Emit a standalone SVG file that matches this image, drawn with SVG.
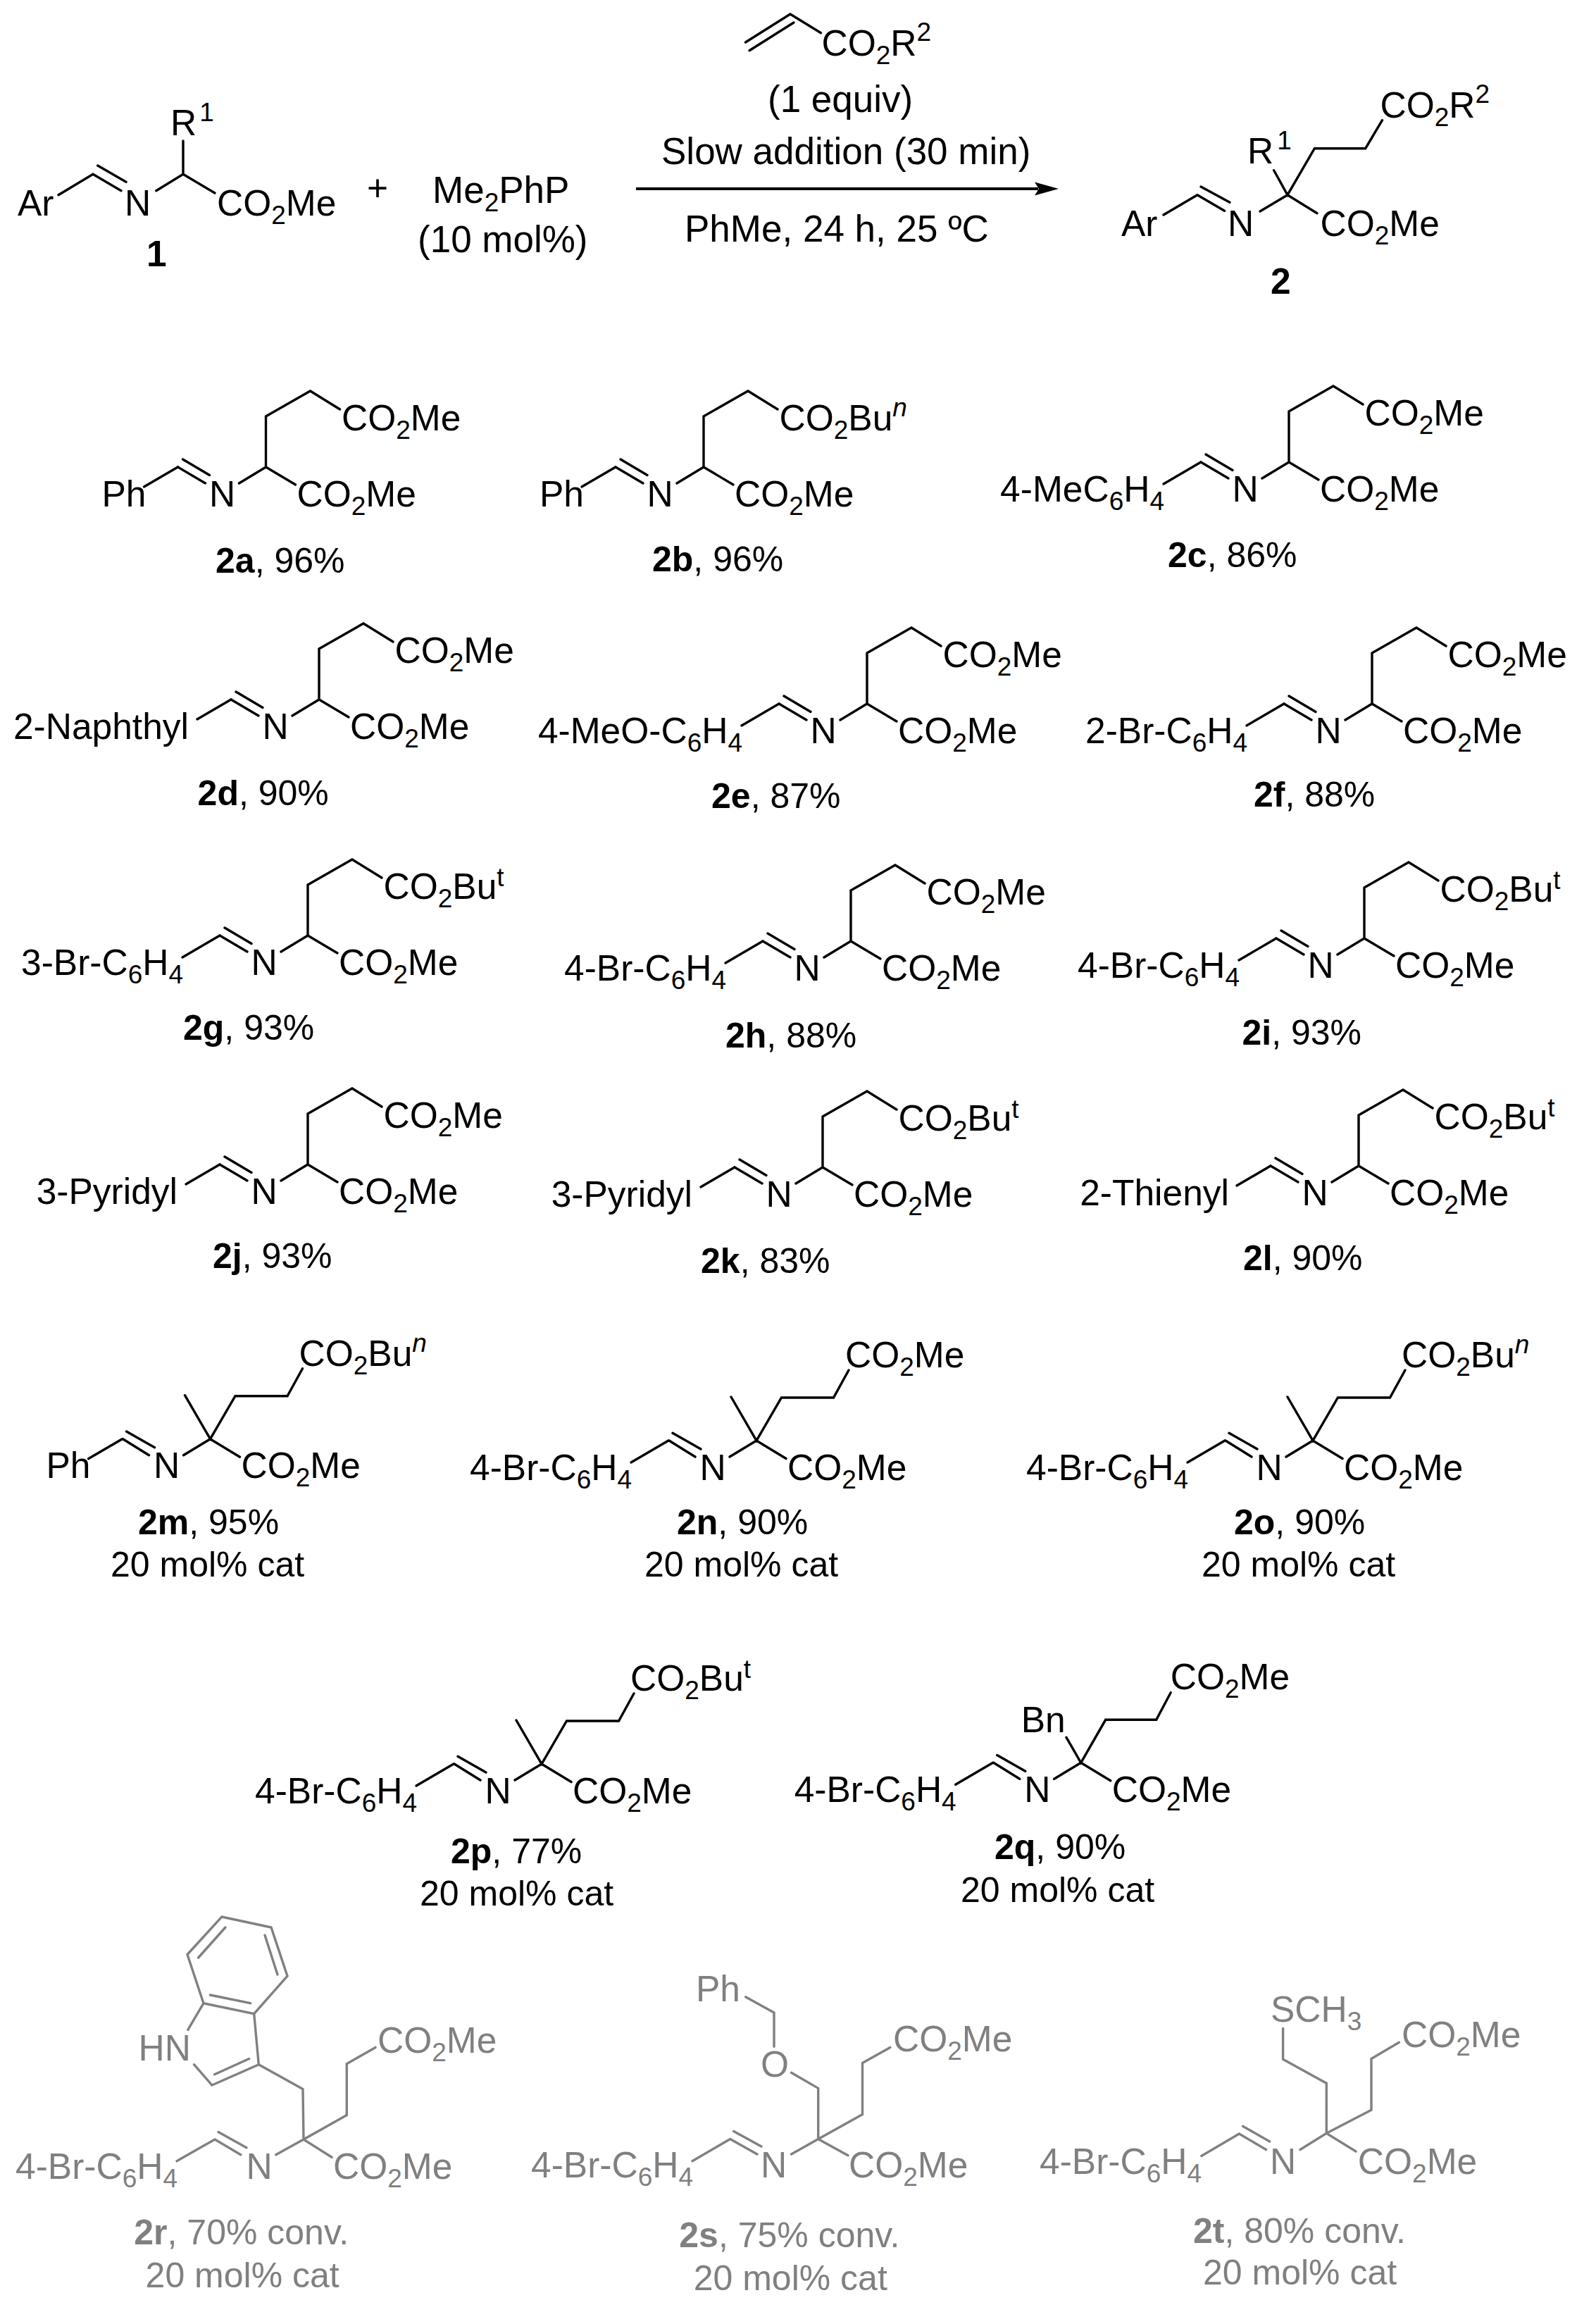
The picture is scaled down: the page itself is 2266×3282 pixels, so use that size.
<svg xmlns="http://www.w3.org/2000/svg" width="2266" height="3282" viewBox="0 0 2266 3282">
<style>
text{font-family:"Liberation Sans",Arial,sans-serif;font-size:51.5px;fill:#000}
.s{font-size:37px}
.i{font-size:37px;font-style:italic}
.b{font-weight:bold}
.e{text-anchor:end}
.w{font-size:53px}
.l{font-size:50px}
.bd{fill:none;stroke:#000;stroke-width:3.4;stroke-linecap:round;stroke-linejoin:miter}
.g text{fill:#808080}
.g .bd{stroke:#808080}
</style>
<defs>
<path id="t3" class="bd" d="M-125,0L-86,23M-118,-11L-80,11.5M-38,23L0,0L42,25M0,0V-72L63,-108L105,-82"/>
<path id="q4" class="bd" d="M-124,0L-87,23M-119,-10.7L-79,12M-38,23L0,0L42,25.5M-36,-62L0,0L35.5,-61H109.5L131,-100"/>
<path id="sa" class="bd" d="M-178,31L-125,0"/>
<path id="sb" class="bd" d="M-173,28L-125,0"/>
</defs>
<rect width="2266" height="3282" fill="#fff"/>
<g id="connectors">
<path d="M903,268H1474" fill="none" stroke="#000" stroke-width="4"/>
<polygon points="1503,268 1469,258.5 1475,268 1469,277.5" fill="#000"/>
</g>
<g id="reactant1">
<path class="bd" d="M83,276.7L132,247.3L172,270.7M138.7,235L179,258.3M221.8,270.7L260,247.3L305,274M260,247.3V200"/>
<text x="25" y="306">Ar</text><text x="177" y="306">N</text>
<text x="308" y="306">CO<tspan class="s" dy="12">2</tspan><tspan dy="-12">Me</tspan></text>
<text x="242" y="191.7">R<tspan class="s" dx="4" dy="-20">1</tspan></text>
<text class="b" x="208" y="378">1</text>
</g>
<g id="plus"><text x="521" y="285">+</text></g>
<g id="catalyst">
<text x="614" y="288.3" class="w">Me<tspan class="s" dy="12">2</tspan><tspan dy="-12">PhP</tspan></text>
<text x="593" y="358" class="w">(10 mol%)</text>
</g>
<g id="conditions">
<path class="bd" d="M1058.5,60L1122,20L1165.5,46.7M1064,71.7L1127,32"/>
<text x="1166.5" y="79.3">CO<tspan class="s" dy="12">2</tspan><tspan dy="-12">R</tspan><tspan class="s" dy="-21">2</tspan></text>
<text class="w" x="1090" y="159">(1 equiv)</text>
<text class="w" x="939" y="233">Slow addition (30 min)</text>
<text class="w" x="972" y="343">PhMe, 24 h, 25 ºC</text>
</g>
<g id="product2">
<path class="bd" d="M1652,305L1700,276.7L1738.5,299.3M1705,265L1746,287.3M1789,300L1828,276.7L1870,302.7M1808.6,241.7L1828,276.7L1866.4,210.7H1938.7L1962.5,170.7"/>
<text x="1592" y="335">Ar</text><text x="1743" y="335">N</text>
<text x="1874.5" y="335">CO<tspan class="s" dy="12">2</tspan><tspan dy="-12">Me</tspan></text>
<text x="1959.5" y="166.7">CO<tspan class="s" dy="12">2</tspan><tspan dy="-12">R</tspan><tspan class="s" dy="-21">2</tspan></text>
<text x="1771" y="231.7">R<tspan class="s" dx="5" dy="-20">1</tspan></text>
<text class="b" x="1804" y="416.7">2</text>
</g>

<g id="c2a"><g transform="translate(377.5,663)"><use href="#t3"/><use href="#sb"/>
<text x="-233" y="55.5">Ph</text><text x="-80.5" y="55.5">N</text>
<text x="44" y="55.5">CO<tspan class="s" dy="12">2</tspan><tspan dy="-12">Me</tspan></text>
<text x="107.5" y="-52.5">CO<tspan class="s" dy="12">2</tspan><tspan dy="-12">Me</tspan></text></g>
<text class="l" x="306" y="813"><tspan class="b">2a</tspan>, 96%</text></g>

<g id="c2b"><g transform="translate(999,663)"><use href="#t3"/><use href="#sb"/>
<text x="-233" y="55.5">Ph</text><text x="-80.5" y="55.5">N</text>
<text x="44" y="55.5">CO<tspan class="s" dy="12">2</tspan><tspan dy="-12">Me</tspan></text>
<text x="107.5" y="-52.5">CO<tspan class="s" dy="12">2</tspan><tspan dy="-12">Bu</tspan><tspan class="i" dy="-20">n</tspan></text></g>
<text class="l" x="926" y="811"><tspan class="b">2b</tspan>, 96%</text></g>

<g id="c2c"><g transform="translate(1830,656)"><use href="#t3"/><use href="#sa"/>
<text class="e" x="-177" y="55.5">4-MeC<tspan class="s" dy="12">6</tspan><tspan dy="-12">H</tspan><tspan class="s" dy="12">4</tspan></text><text x="-80.5" y="55.5">N</text>
<text x="44" y="55.5">CO<tspan class="s" dy="12">2</tspan><tspan dy="-12">Me</tspan></text>
<text x="107.5" y="-52.5">CO<tspan class="s" dy="12">2</tspan><tspan dy="-12">Me</tspan></text></g>
<text class="l" x="1658" y="805"><tspan class="b">2c</tspan>, 86%</text></g>

<g id="c2d"><g transform="translate(453,993)"><use href="#t3"/><use href="#sb"/>
<text class="e" x="-185" y="55.5">2-Naphthyl</text><text x="-80.5" y="55.5">N</text>
<text x="44" y="55.5">CO<tspan class="s" dy="12">2</tspan><tspan dy="-12">Me</tspan></text>
<text x="107.5" y="-52.5">CO<tspan class="s" dy="12">2</tspan><tspan dy="-12">Me</tspan></text></g>
<text class="l" x="280.6" y="1142.7"><tspan class="b">2d</tspan>, 90%</text></g>

<g id="c2e"><g transform="translate(1231,999)"><use href="#t3"/><use href="#sa"/>
<text class="e" x="-177" y="55.5">4-MeO-C<tspan class="s" dy="12">6</tspan><tspan dy="-12">H</tspan><tspan class="s" dy="12">4</tspan></text><text x="-80.5" y="55.5">N</text>
<text x="44" y="55.5">CO<tspan class="s" dy="12">2</tspan><tspan dy="-12">Me</tspan></text>
<text x="107.5" y="-52.5">CO<tspan class="s" dy="12">2</tspan><tspan dy="-12">Me</tspan></text></g>
<text class="l" x="1010" y="1147"><tspan class="b">2e</tspan>, 87%</text></g>

<g id="c2f"><g transform="translate(1948,999)"><use href="#t3"/><use href="#sa"/>
<text class="e" x="-177" y="55.5">2-Br-C<tspan class="s" dy="12">6</tspan><tspan dy="-12">H</tspan><tspan class="s" dy="12">4</tspan></text><text x="-80.5" y="55.5">N</text>
<text x="44" y="55.5">CO<tspan class="s" dy="12">2</tspan><tspan dy="-12">Me</tspan></text>
<text x="107.5" y="-52.5">CO<tspan class="s" dy="12">2</tspan><tspan dy="-12">Me</tspan></text></g>
<text class="l" x="1780" y="1145"><tspan class="b">2f</tspan>, 88%</text></g>

<g id="c2g"><g transform="translate(437,1328)"><use href="#t3"/><use href="#sa"/>
<text class="e" x="-177" y="55.5">3-Br-C<tspan class="s" dy="12">6</tspan><tspan dy="-12">H</tspan><tspan class="s" dy="12">4</tspan></text><text x="-80.5" y="55.5">N</text>
<text x="44" y="55.5">CO<tspan class="s" dy="12">2</tspan><tspan dy="-12">Me</tspan></text>
<text x="107.5" y="-52.5">CO<tspan class="s" dy="12">2</tspan><tspan dy="-12">Bu</tspan><tspan class="s" dy="-18">t</tspan></text></g>
<text class="l" x="260" y="1476"><tspan class="b">2g</tspan>, 93%</text></g>

<g id="c2h"><g transform="translate(1208,1336)"><use href="#t3"/><use href="#sa"/>
<text class="e" x="-177" y="55.5">4-Br-C<tspan class="s" dy="12">6</tspan><tspan dy="-12">H</tspan><tspan class="s" dy="12">4</tspan></text><text x="-80.5" y="55.5">N</text>
<text x="44" y="55.5">CO<tspan class="s" dy="12">2</tspan><tspan dy="-12">Me</tspan></text>
<text x="107.5" y="-52.5">CO<tspan class="s" dy="12">2</tspan><tspan dy="-12">Me</tspan></text></g>
<text class="l" x="1030" y="1487"><tspan class="b">2h</tspan>, 88%</text></g>

<g id="c2i"><g transform="translate(1937,1332)"><use href="#t3"/><use href="#sa"/>
<text class="e" x="-177" y="55.5">4-Br-C<tspan class="s" dy="12">6</tspan><tspan dy="-12">H</tspan><tspan class="s" dy="12">4</tspan></text><text x="-80.5" y="55.5">N</text>
<text x="44" y="55.5">CO<tspan class="s" dy="12">2</tspan><tspan dy="-12">Me</tspan></text>
<text x="107.5" y="-52.5">CO<tspan class="s" dy="12">2</tspan><tspan dy="-12">Bu</tspan><tspan class="s" dy="-18">t</tspan></text></g>
<text class="l" x="1763.5" y="1482.7"><tspan class="b">2i</tspan>, 93%</text></g>

<g id="c2j"><g transform="translate(437,1653)"><use href="#t3"/><use href="#sb"/>
<text class="e" x="-185" y="55.5">3-Pyridyl</text><text x="-80.5" y="55.5">N</text>
<text x="44" y="55.5">CO<tspan class="s" dy="12">2</tspan><tspan dy="-12">Me</tspan></text>
<text x="107.5" y="-52.5">CO<tspan class="s" dy="12">2</tspan><tspan dy="-12">Me</tspan></text></g>
<text class="l" x="302" y="1800"><tspan class="b">2j</tspan>, 93%</text></g>

<g id="c2k"><g transform="translate(1168,1657)"><use href="#t3"/><use href="#sb"/>
<text class="e" x="-185" y="55.5">3-Pyridyl</text><text x="-80.5" y="55.5">N</text>
<text x="44" y="55.5">CO<tspan class="s" dy="12">2</tspan><tspan dy="-12">Me</tspan></text>
<text x="107.5" y="-52.5">CO<tspan class="s" dy="12">2</tspan><tspan dy="-12">Bu</tspan><tspan class="s" dy="-18">t</tspan></text></g>
<text class="l" x="995" y="1806.7"><tspan class="b">2k</tspan>, 83%</text></g>

<g id="c2l"><g transform="translate(1929,1655)"><use href="#t3"/><use href="#sb"/>
<text class="e" x="-184" y="55.5">2-Thienyl</text><text x="-80.5" y="55.5">N</text>
<text x="44" y="55.5">CO<tspan class="s" dy="12">2</tspan><tspan dy="-12">Me</tspan></text>
<text x="107.5" y="-52.5">CO<tspan class="s" dy="12">2</tspan><tspan dy="-12">Bu</tspan><tspan class="s" dy="-18">t</tspan></text></g>
<text class="l" x="1765" y="1803"><tspan class="b">2l</tspan>, 90%</text></g>

<g id="c2m"><g transform="translate(298.5,2042.7)"><use href="#q4"/><use href="#sb"/>
<text x="-233" y="55.5">Ph</text><text x="-80.5" y="55.5">N</text>
<text x="44" y="55.5">CO<tspan class="s" dy="12">2</tspan><tspan dy="-12">Me</tspan></text>
<text x="126" y="-104">CO<tspan class="s" dy="12">2</tspan><tspan dy="-12">Bu</tspan><tspan class="i" dy="-20">n</tspan></text></g>
<text class="l" x="196" y="2177.7"><tspan class="b">2m</tspan>, 95%</text><text class="l" x="157" y="2238">20 mol% cat</text></g>

<g id="c2n"><g transform="translate(1074,2045)"><use href="#q4"/><use href="#sa"/>
<text class="e" x="-177" y="55.5">4-Br-C<tspan class="s" dy="12">6</tspan><tspan dy="-12">H</tspan><tspan class="s" dy="12">4</tspan></text><text x="-80.5" y="55.5">N</text>
<text x="44" y="55.5">CO<tspan class="s" dy="12">2</tspan><tspan dy="-12">Me</tspan></text>
<text x="126" y="-104">CO<tspan class="s" dy="12">2</tspan><tspan dy="-12">Me</tspan></text></g>
<text class="l" x="961" y="2178"><tspan class="b">2n</tspan>, 90%</text><text class="l" x="915" y="2238">20 mol% cat</text></g>

<g id="c2o"><g transform="translate(1864,2045)"><use href="#q4"/><use href="#sa"/>
<text class="e" x="-177" y="55.5">4-Br-C<tspan class="s" dy="12">6</tspan><tspan dy="-12">H</tspan><tspan class="s" dy="12">4</tspan></text><text x="-80.5" y="55.5">N</text>
<text x="44" y="55.5">CO<tspan class="s" dy="12">2</tspan><tspan dy="-12">Me</tspan></text>
<text x="126" y="-104">CO<tspan class="s" dy="12">2</tspan><tspan dy="-12">Bu</tspan><tspan class="i" dy="-20">n</tspan></text></g>
<text class="l" x="1752" y="2178"><tspan class="b">2o</tspan>, 90%</text><text class="l" x="1706" y="2238">20 mol% cat</text></g>

<g id="c2p"><g transform="translate(769,2504)"><use href="#q4"/><use href="#sa"/>
<text class="e" x="-177" y="55.5">4-Br-C<tspan class="s" dy="12">6</tspan><tspan dy="-12">H</tspan><tspan class="s" dy="12">4</tspan></text><text x="-80.5" y="55.5">N</text>
<text x="44" y="55.5">CO<tspan class="s" dy="12">2</tspan><tspan dy="-12">Me</tspan></text>
<text x="126" y="-104">CO<tspan class="s" dy="12">2</tspan><tspan dy="-12">Bu</tspan><tspan class="s" dy="-18">t</tspan></text></g>
<text class="l" x="640" y="2645"><tspan class="b">2p</tspan>, 77%</text><text class="l" x="596" y="2705">20 mol% cat</text></g>

<g id="c2q"><g transform="translate(1534.7,2502.3)">
<path class="bd" d="M-124,0L-87,23M-119,-10.7L-79,12M-38,23L0,0L42,25.5M-20.7,-36L0,0L35,-61H107L127.5,-99.6"/><use href="#sa"/>
<text class="e" x="-177" y="55.5">4-Br-C<tspan class="s" dy="12">6</tspan><tspan dy="-12">H</tspan><tspan class="s" dy="12">4</tspan></text><text x="-80.5" y="55.5">N</text>
<text x="44" y="55.5">CO<tspan class="s" dy="12">2</tspan><tspan dy="-12">Me</tspan></text>
<text x="127" y="-104">CO<tspan class="s" dy="12">2</tspan><tspan dy="-12">Me</tspan></text>
<text x="-85" y="-43.3">Bn</text></g>
<text class="l" x="1412" y="2639"><tspan class="b">2q</tspan>, 90%</text><text class="l" x="1364" y="2700">20 mol% cat</text></g>

<g class="g">
<g id="c2r">
<path class="bd" d="M314.8,2721L385,2736L408,2805L360.7,2858.7L289,2843.7L266,2774.5ZM320,2736L281.6,2779M376,2747L394,2803M355.6,2843.7L298.5,2832M289,2843.7L266.8,2881.3M275.5,2930.7L301,2960L367.3,2930.7L360.7,2858.7M304.6,2944.7L353.6,2922.5M367.3,2930.7L430,2965.5L431,3037L492.3,3002.4V2929.7L533,2906.4M431,3037L471,3062.3M391.8,3058.7L431,3037M251,3067.7L305,3037L341.8,3058.7M310,3026.5L350,3048.7"/>
<text x="196.5" y="2925.4">HN</text>
<text x="536" y="2913.5">CO<tspan class="s" dy="12">2</tspan><tspan dy="-12">Me</tspan></text>
<text x="473" y="3092.8">CO<tspan class="s" dy="12">2</tspan><tspan dy="-12">Me</tspan></text>
<text x="349.6" y="3092.8">N</text>
<text class="e" x="252" y="3092.8">4-Br-C<tspan class="s" dy="12">6</tspan><tspan dy="-12">H</tspan><tspan class="s" dy="12">4</tspan></text>
<text class="l" x="190.3" y="3186"><tspan class="b">2r</tspan>, 70% conv.</text><text class="l" x="206.6" y="3246.9">20 mol% cat</text>
</g>
<g id="c2s">
<path class="bd" d="M983,3067.7L1036.7,3036.5L1075,3058M1041.8,3025.4L1081,3046.9M1123.5,3058L1161.7,3036.5L1204,3059.8M1161.7,3036.5L1224.5,3001.4V2928.6L1263.8,2906.4M1161.7,3036.5V2964.4L1123.5,2942.2M1099,2905.3V2857L1058.7,2834.7"/>
<text x="1080" y="3091">N</text>
<text class="e" x="984" y="3091">4-Br-C<tspan class="s" dy="12">6</tspan><tspan dy="-12">H</tspan><tspan class="s" dy="12">4</tspan></text>
<text x="1205" y="3091">CO<tspan class="s" dy="12">2</tspan><tspan dy="-12">Me</tspan></text>
<text x="1268" y="2911.8">CO<tspan class="s" dy="12">2</tspan><tspan dy="-12">Me</tspan></text>
<text x="1080" y="2948.3">O</text><text x="988" y="2840.8">Ph</text>
<text class="l" x="964.3" y="3189.5"><tspan class="b">2s</tspan>, 75% conv.</text><text class="l" x="984.7" y="3250.5">20 mol% cat</text>
</g>
<g id="c2t">
<path class="bd" d="M1705.8,3060.5L1759.4,3029L1797.6,3051.5M1764.5,3018.2L1802.7,3040M1846,3051.5L1883.3,3028.2L1925,3054M1883.3,3028.2L1947,2995.3V2922.5L1986.4,2899.2M1883.3,3028.2V2957.3L1821.6,2923.2V2879.5"/>
<text x="1803" y="3085.6">N</text>
<text class="e" x="1706" y="3085.6">4-Br-C<tspan class="s" dy="12">6</tspan><tspan dy="-12">H</tspan><tspan class="s" dy="12">4</tspan></text>
<text x="1927.8" y="3085.6">CO<tspan class="s" dy="12">2</tspan><tspan dy="-12">Me</tspan></text>
<text x="1990" y="2905.7">CO<tspan class="s" dy="12">2</tspan><tspan dy="-12">Me</tspan></text>
<text x="1804" y="2869.5">SCH<tspan class="s" dy="12">3</tspan></text>
<text class="l" x="1694" y="3184"><tspan class="b">2t</tspan>, 80% conv.</text><text class="l" x="1708" y="3243.3">20 mol% cat</text>
</g>
</g>
</svg>
